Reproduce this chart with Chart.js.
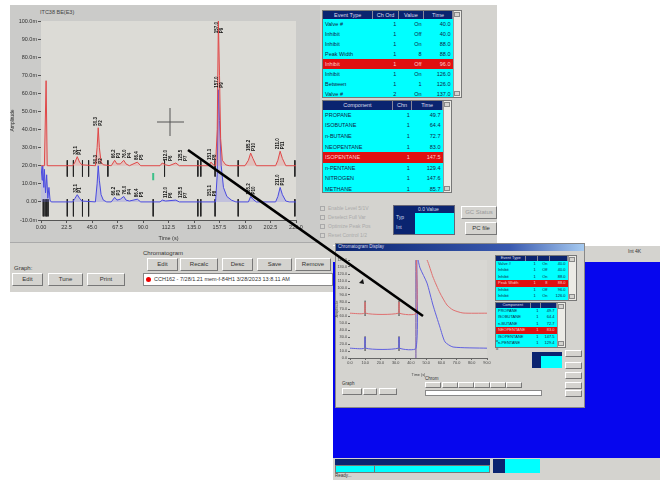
<!DOCTYPE html>
<html>
<head>
<meta charset="utf-8">
<script src="https://cdn.jsdelivr.net/npm/chart.js@4.4.1/dist/chart.umd.min.js"></script>
<style>
body{margin:0;width:660px;height:480px;background:#fff;position:relative;overflow:hidden;font-family:"Liberation Sans",Arial,sans-serif;}
.abs{position:absolute;}
.gray{background:#d4d3cf;}
.btn{position:absolute;background:#d4d3cf;border:1px solid;border-color:#fff #777 #777 #fff;font-size:6px;color:#333;text-align:center;box-sizing:border-box;}
.tbl{position:absolute;border:1px solid #777;background:#0ff;overflow:hidden;box-sizing:border-box;}
.tbl table{border-collapse:collapse;table-layout:fixed;font-size:5.5px;color:#124;}
.tbl th{background:#0a2470;color:#dde;font-weight:normal;border-right:1px solid #889;padding:0 1px;overflow:hidden;white-space:nowrap;}
.tbl td{padding:0 2px;white-space:nowrap;overflow:hidden;}
.tbl tr.sel td{background:#e01010;color:#fcc;}
.tbl.small table{font-size:4px;line-height:4px;}
.lbl{position:absolute;font-size:6px;color:#333;white-space:nowrap;}
</style>
</head>
<body>
<script>
// main chromatogram traces (time s, amplitude mV)
const redTimes  = [0,3,4.5,5.5,28,30,32,34,36,48,49.5,50.5,51.5,53,55,62,65,67,70,73,75,78,85,88,105,107,110,113,119,122,148,150,152,154,155.5,156.5,157.5,158.5,160,163,166,180,183,185,187,190,207,209,211,213,216,225];
const redValues = [20,20,67,20,20,22,25,22,20.5,20,30,41,30,22,20.5,20,23,21,21,23,21,20,22,20,20,21.5,20.5,20,21.5,20,20,22,20.5,20,40,100,70,35,23,20.5,20,20,23,27,24,20,20,23,28,24,20,20];
const blueTimes  = [0,1,1.5,2.5,3,4,5,6,7,8,9,28,30,32,34,36,48,49.5,50.5,51.5,53,55,58,62,65,67,70,73,75,78,85,88,105,107,110,119,122,154,155.5,156.5,157.5,159,161,164,168,172,183,185,187,190,207,209,211,213,216,219,225];
const blueValues = [20,12,20,8,18,5,15,2,8,1,0,0,2,4,2,0.5,0,10,20,12,4,1,0,0,2.5,1,1.5,3,1,0.5,1.5,0,0,1,0.5,1,0,0,15,62,45,20,8,3,1,0,0,3,1.5,0,0,3,8,4,0.5,0,0];
// integration event marks
const redMarkTimes  = [23.2,28.6,36.6,42,59,109,138.4,141,153.6,174,224];
const blueMarkTimes = [2,3.6,5,6.2,23.2,28.6,36.6,42,99,138.4,141,153.6,174,224];
const greenMarkTime = 99;
// peak labels
const peakTimes = [32.1,50.3,66.2,76.0,86.4,112.0,125.5,151.1,157.0,185.2,211.0];
const redPeakTops  = [25,41,23,23,22,21.5,21.5,22,100,27,28];
const bluePeakTops = [4,20,2.5,3,1.5,1,1,2,62,3,8];
const xTicks = [0,22.5,45,67.5,90,112.5,135,157.5,180,202.5,225];

// inset chromatogram
const insetRedTimes  = [0,9.4,9.9,10.4,31.7,32.2,32.7,43.4,44,50.6,54.5,59.1,63.7,67.7,74.2,90];
const insetRedValues = [64,64,80,64,64,80,64,64,160,140,115.7,92.9,75.7,68.6,64.3,64];
const insetBlueTimes  = [0,9.4,9.9,10.4,31.7,32.2,32.7,43.4,44,46,50.6,54.5,59.1,62.4,67.7,90];
const insetBlueValues = [14,14,30,14,14,30,14,14,145,128.6,107,75.7,44,23,15.7,14];

// tables
const eventRows = [["Valve #","1","On","40.0"],["Inhibit","1","Off","40.0"],["Inhibit","1","On","88.0"],["Peak Width","1","8","88.0"],["Inhibit","1","Off","96.0"],["Inhibit","1","On","126.0"],["Between","1","1","126.0"],["Valve #","2","On","137.0"]];
const compRows = [["PROPANE","1","49.7"],["ISOBUTANE","1","64.4"],["n-BUTANE","1","72.7"],["NEOPENTANE","1","83.0"],["ISOPENTANE","1","147.5"],["n-PENTANE","1","129.4"],["NITROGEN","1","147.6"],["METHANE","1","85.7"]];

function box(cls, x, y, w, h, css, html){
  const d = document.createElement('div')
  d.className = cls
  d.style.cssText = `left:${x}px;top:${y}px;width:${w}px;height:${h}px;` + (css||'')
  if(html) d.innerHTML = html
  document.body.appendChild(d)
  return d
}
function btn(x,y,w,h,t){ return box('btn',x,y,w,h,`line-height:${h-2}px;`,t) }
function table(x,y,w,h,heads,rows,sel,rowH,widths,small){
  const tw = w-10
  let s = `<table style="width:${tw}px"><tr style="height:${rowH-2}px">`+heads.map((t,i)=>`<th style="width:${widths[i]}%">${t}</th>`).join('')+'</tr>'
  rows.forEach((r,i)=>{ s += `<tr class="${i==sel?'sel':''}" style="height:${rowH}px">`+r.map((c,j)=>`<td style="text-align:${j?'right':'left'}">${c}</td>`).join('')+'</tr>' })
  s += '</table>'
  const t = box('tbl'+(small?' small':''),x,y,w,h,'',s)
  box('abs',x+w-9,y+1,8,h-2,'background:#ecebe6;border-left:1px solid #999;box-sizing:border-box;')
  box('abs',x+w-8,y+2,6,5,'background:#d4d3cf;border:1px solid #888;box-sizing:border-box;')
  box('abs',x+w-8,y+h-7,6,5,'background:#d4d3cf;border:1px solid #888;box-sizing:border-box;')
  return t
}

// --- main application window ---
box('abs gray',10,5,487,287)
box('abs',10,5,310,237,'background:#cbcbc9;')
box('lbl',40,9,60,8,'font-size:5.5px;color:#444;','ITC38 BE(E3)')
box('abs',10,242,310,1,'background:#aaa;')
box('lbl',14,265,20,8,'','Graph:')
btn(12,273,31,13,'Edit'); btn(48,273,35,13,'Tune'); btn(87,273,38,13,'Print')
box('lbl',143,250,50,8,'','Chromatogram')
btn(147,258,31,13,'Edit'); btn(180,258,38,13,'Recalc'); btn(222,258,31,13,'Desc'); btn(257,258,35,13,'Save'); btn(295,258,36,13,'Remove')
box('abs',143,273,190,13,'background:#fff;border:1px solid #888;box-sizing:border-box;font-size:5.5px;color:#333;line-height:11px;padding-left:10px;white-space:nowrap;overflow:hidden;','CCH162 - 7/28/1.21 mem-f-84H1 3/28/2023 13:8.11 AM')
box('abs',146,277,5,5,'background:#e00;border-radius:3px;')

table(322,10,140,88,['Event Type','Ch Ord','Value','Time'],eventRows,4,10,[40,19,19,22])
table(322,100,130,93,['Component','Chn','Time'],compRows,4,10.6,[60,15,25])
;['Enable Level 5/1V','Deselect Full Var','Optimize Peak Pos','Reset Control 1/2'].forEach((t,i)=>{
  box('abs',320,206+i*9,5,5,'border:1px solid #aaa;box-sizing:border-box;')
  box('lbl',328,205+i*9,60,7,'font-size:5px;color:#aaa;',t)
})
box('abs',393,205,62,30,'background:#0a2470;border:1px solid #667;box-sizing:border-box;')
box('abs',415,213,39,21,'background:#0ff;')
box('lbl',418,206,35,6,'font-size:5px;color:#cde;','0.0 Value')
box('lbl',396,214,15,6,'font-size:5px;color:#cde;','Typ')
box('lbl',396,224,15,6,'font-size:5px;color:#cde;','Int')
btn(461,206,36,13,'<span style="color:#999">GC Status</span>')
btn(465,222,32,13,'PC file')

// --- second application (blue desktop) ---
box('abs',333,245,327,17,'background:#d4d3cf;border-top:1px solid #fff;box-sizing:border-box;')
box('lbl',628,248,30,7,'font-size:5px;','Int 4K')
box('abs',333,262,327,196,'background:#0606ee;')
box('abs',333,458,327,22,'background:#d4d3cf;')
box('abs',335,459,155,6,'background:#0a2470;')
box('abs',335,465,155,8,'background:#0ff;border:1px solid #777;box-sizing:border-box;')
box('abs',374,465,1,8,'background:#777;')
box('abs',493,459,12,14,'background:#0a2470;')
box('abs',505,459,35,14,'background:#0ff;')
box('lbl',335,473,30,7,'font-size:4.5px;','Ready...')

// inset window
box('abs',335,243,250,165,'background:#d4d3cf;border:1px solid #888;box-sizing:border-box;')
box('abs',336,244,248,7,'background:linear-gradient(90deg,#0a2470,#3a5ab0 70%,#a6caf0);')
box('lbl',338,244,80,6,'font-size:4.5px;color:#dde;','Chromatogram Display')
table(495,255,82,46,['Event Type','','',''],eventRows.slice(0,6),3,6.5,[45,15,15,25],true)
table(495,302,71,46,['Component','',''],compRows.slice(0,6),3,6.5,[60,15,25],true)
box('abs',532,352,30,16,'background:#0a2470;')
box('abs',541,356,21,12,'background:#0ff;')
;[350,362,372,382,390].forEach(y=>btn(565,y,17,7,''))
box('lbl',342,381,20,6,'font-size:4.5px;','Graph')
btn(342,388,20,7,''); btn(363,388,14,7,''); btn(379,388,18,7,'')
box('lbl',425,376,30,6,'font-size:4.5px;','Chrom')
;[425,442,458,474,490,506].forEach(x=>btn(x,382,16,6,''))
box('abs',425,390,117,6,'background:#fff;border:1px solid #888;box-sizing:border-box;')
box('lbl',496,338,10,6,'font-size:4px;','o')
box('lbl',496,346,10,6,'font-size:4px;','o')
</script>

<div class="abs" style="left:10px;top:5px;width:310px;height:237px;"><canvas id="mainChart" width="310" height="237"></canvas></div>
<div class="abs" style="left:335px;top:252px;width:160px;height:125px;"><canvas id="insetChart" width="160" height="125"></canvas></div>

<svg class="abs" style="left:0;top:0;" width="660" height="480">
  <line x1="157" y1="122" x2="184" y2="122" stroke="#555" stroke-width="1"/>
  <line x1="170" y1="108" x2="170" y2="136" stroke="#555" stroke-width="1"/>
  <polygon points="359,283 363,279 364,284" fill="#111"/>
  <line x1="188" y1="150" x2="423" y2="316" stroke="#000" stroke-width="2.6"/>
</svg>

<script>
function pts(ts, vs){ return ts.map((t,i)=>({x:t, y:vs[i]})) }
function marks(ts, top, bot){ return ts.flatMap(t=>[{x:t,y:top},{x:t,y:bot},{x:t,y:null}]) }

const areaBg = {
  id:'areaBg',
  beforeDatasetsDraw(c, a, o){
    const {ctx, chartArea:ca} = c
    ctx.save(); ctx.fillStyle = o.color; ctx.fillRect(ca.left, ca.top, ca.right-ca.left, ca.bottom-ca.top); ctx.restore()
  }
}
const peakText = {
  id:'peakText',
  afterDatasetsDraw(c){
    const {ctx, scales:{x, y}} = c
    ctx.save(); ctx.fillStyle = '#111'; ctx.font = 'bold 4.5px "Liberation Sans"'; ctx.textBaseline = 'middle'
    peakTimes.forEach((t,i)=>{
      const px = x.getPixelForValue(t)
      ;[redPeakTops[i], bluePeakTops[i]].forEach(v=>{
        let py = y.getPixelForValue(v) - 2
        const lab = t.toFixed(1), lab2 = 'P' + (i+1)
        const w = ctx.measureText(lab).width
        if (py - w < c.chartArea.top) py = c.chartArea.top + w + 1
        ctx.save(); ctx.translate(px, py); ctx.rotate(-Math.PI/2)
        ctx.fillText(lab, 0, -2); ctx.fillText(lab2, 0, 2.5); ctx.restore()
      })
    })
    ctx.restore()
  }
}

const tickFont = {size:5.5, family:'"Liberation Sans"'}
new Chart('mainChart', {
  type:'line',
  data:{datasets:[
    {data:pts(redTimes, redValues), borderColor:'#e04848', backgroundColor:'rgba(240,120,120,0.25)', fill:{value:20}, borderWidth:1},
    {data:pts(blueTimes, blueValues), borderColor:'#4a4ae0', backgroundColor:'rgba(110,110,240,0.25)', fill:{value:0}, borderWidth:1},
    {data:marks(redMarkTimes, 23, 14), borderColor:'#222', borderWidth:1, spanGaps:false},
    {data:marks(blueMarkTimes, 1.5, -8), borderColor:'#222', borderWidth:1, spanGaps:false},
    {data:marks([greenMarkTime], 16, 12), borderColor:'#3cc088', borderWidth:2, spanGaps:false}
  ]},
  options:{
    responsive:false, animation:false, parsing:true,
    layout:{padding:{top:16, right:24}},
    elements:{point:{radius:0}, line:{tension:0}},
    plugins:{legend:{display:false}, tooltip:{enabled:false}, areaBg:{color:'#dcdbd6'}},
    scales:{
      x:{type:'linear', min:0, max:225, afterBuildTicks:s=>{s.ticks = xTicks.map(v=>({value:v}))},
         afterFit:s=>{s.height = 22},
         ticks:{autoSkip:false, maxRotation:0, font:tickFont, color:'#333', padding:1, callback:v=>v===0?'0.00':v.toFixed(1)},
         grid:{drawOnChartArea:false, tickLength:3, color:'#555'}, border:{color:'#555'},
         title:{display:true, text:'Time (s)', font:tickFont, color:'#333', padding:0}},
      y:{min:-10, max:100, afterFit:s=>{s.width = 31},
         ticks:{stepSize:10, autoSkip:false, font:tickFont, color:'#333', padding:1, callback:v=>v===0?'0.00':v.toFixed(1)+'m'},
         grid:{drawOnChartArea:false, tickLength:3, color:'#555'}, border:{color:'#555'},
         title:{display:true, text:'Amplitude', font:{size:5, family:'"Liberation Sans"'}, color:'#333', padding:0}}
    }
  },
  plugins:[areaBg, peakText]
})

const insetFont = {size:3.8, family:'"Liberation Sans"'}
new Chart('insetChart', {
  type:'line',
  data:{datasets:[
    {data:pts(insetRedTimes, insetRedValues), borderColor:'#e07070', borderWidth:1},
    {data:pts(insetBlueTimes, insetBlueValues), borderColor:'#6060e0', borderWidth:1},
    {data:marks([43.3], 145, 0), borderColor:'#7050a0', borderWidth:1, spanGaps:false},
    {data:marks([9.9,32.2], 82, 60), borderColor:'#333', borderWidth:1, spanGaps:false},
    {data:marks([9.9,32.2], 31, 10), borderColor:'#333', borderWidth:1, spanGaps:false}
  ]},
  options:{
    responsive:false, animation:false,
    layout:{padding:{top:8, right:8}},
    elements:{point:{radius:0}, line:{tension:0.2}},
    plugins:{legend:{display:false}, tooltip:{enabled:false}, areaBg:{color:'#d8d7d3'}},
    scales:{
      x:{type:'linear', min:0, max:90, afterFit:s=>{s.height = 19},
         ticks:{stepSize:10, autoSkip:false, maxRotation:0, font:insetFont, color:'#444', padding:1, callback:v=>v.toFixed(1)},
         grid:{drawOnChartArea:false, tickLength:2, color:'#666'}, border:{color:'#666'},
         title:{display:true, text:'Time (s)', font:insetFont, color:'#444', padding:0}},
      y:{min:0, max:140, afterFit:s=>{s.width = 15},
         ticks:{stepSize:10, autoSkip:false, font:insetFont, color:'#444', padding:1, callback:v=>v.toFixed(1)},
         grid:{drawOnChartArea:false, tickLength:2, color:'#666'}, border:{color:'#666'},
         title:{display:true, text:'Amplitude', font:insetFont, color:'#444', padding:0}}
    }
  },
  plugins:[areaBg]
})
</script>
</body>
</html>
